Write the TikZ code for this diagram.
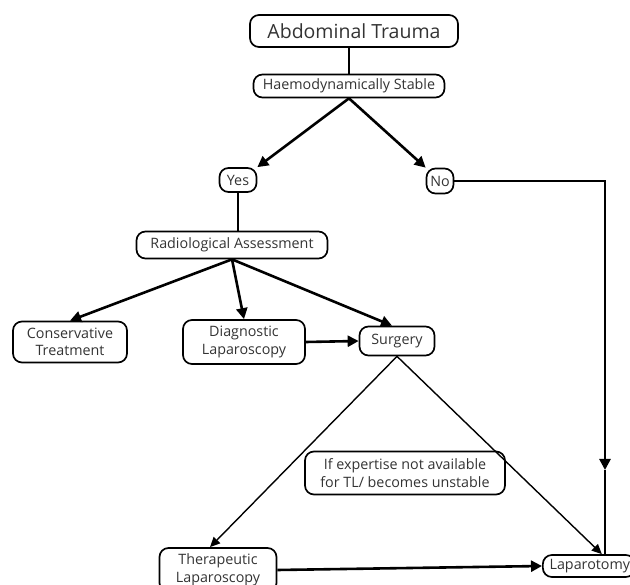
\documentclass[tikz,border=0pt]{standalone}
\usepackage{fontspec}
\setmainfont{Open Sans}
\usetikzlibrary{arrows.meta}
\begin{document}
\begin{tikzpicture}[x=1pt,y=-1pt,
  box/.style={draw=black,line width=1.7pt,rounded corners=9pt,align=center,inner sep=0pt,
    font=\fontsize{14.3}{17.5}\selectfont,text=black!80},
  conn/.style={line width=2.6pt},
  thinconn/.style={line width=1.4pt},
  arr/.style={-{Triangle[length=11pt,width=11pt]}},
  arrs/.style={-{Triangle[length=10pt,width=9pt]}}
]
\useasboundingbox (0,0) rectangle (630,585);
\node[box,minimum width=208pt,minimum height=32pt,font=\fontsize{19.5}{22}\selectfont] (AT) at (354,31) {Abdominal Trauma};
\node[box,minimum width=191pt,minimum height=23pt] (HS) at (349,86) {Haemodynamically Stable};
\node[box,minimum width=37pt,minimum height=24pt] (Yes) at (238,180) {Yes};
\node[box,minimum width=27pt,minimum height=25pt] (No) at (440,181) {No};
\node[box,minimum width=191pt,minimum height=27pt] (RA) at (232,245) {Radiological Assessment};
\node[box,minimum width=114pt,minimum height=41pt] (CT) at (70,342) {Conservative\\Treatment};
\node[box,minimum width=122pt,minimum height=44pt] (DL) at (244,342) {Diagnostic\\Laparoscopy};
\node[box,minimum width=75pt,minimum height=29pt] (SU) at (397,341) {Surgery};
\node[box,minimum width=200pt,minimum height=43pt] (IE) at (405,473) {If expertise not available\\for TL/ becomes unstable};
\node[box,minimum width=117pt,minimum height=44pt] (TL) at (218,570) {Therapeutic\\Laparoscopy};
\node[box,minimum width=92pt,minimum height=22pt,anchor=west] (LA) at (542,566) {\hspace*{2pt}Laparotomy};
\coordinate (c1) at (605,181);
\coordinate (c2) at (605,470);
\draw[conn] (AT.south -| HS.south) -- (HS.north);
\draw[conn,arr] (HS.south) -- (Yes.north east);
\draw[conn,arr] (HS.south) -- (No.north west);
\draw[conn] (Yes.south) -- (Yes.south |- RA.north);
\draw[conn,arr] (No.east) -- (c1) -- (c2);
\draw[conn] (c2) -- (c2 |- LA.north);
\draw[conn,arr] (RA.south) -- (CT.north);
\draw[conn,arr] (RA.south) -- (DL.north);
\draw[conn,arr] (RA.south) -- ([xshift=-5pt]SU.north);
\draw[conn,arr] (DL.east) -- (SU.west);
\draw[thinconn,arrs] (SU.south) -- ([xshift=-8pt]TL.north);
\draw[thinconn,arrs] (SU.south) -- ([xshift=13pt]LA.north);
\draw[conn,arr] (TL.east) -- (LA.west);
\end{tikzpicture}
\end{document}
